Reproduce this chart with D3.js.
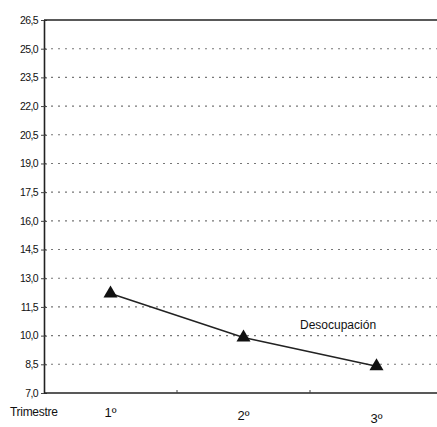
<!DOCTYPE html>
<html><head><meta charset="utf-8">
<script src="https://cdn.jsdelivr.net/npm/d3@7"></script>
<style>body{margin:0;background:#fff}svg{display:block}</style>
</head><body>
<svg id="c" width="437" height="427"></svg>
<script>
const categories = ["1º", "2º", "3º"];
const values = [12.2, 9.9, 8.4];
const yTicks = [7.0, 8.5, 10.0, 11.5, 13.0, 14.5, 16.0, 17.5, 19.0, 20.5, 22.0, 23.5, 25.0, 26.5];
const seriesName = "Desocupación";
const axisTitle = "Trimestre";

const svg = d3.select("#c");
const m = {left: 44, top: 20, right: -6, bottom: 34};
const W = 437, H = 427;
const x = d3.scaleBand().domain(categories).range([m.left, W - m.right]);
const y = d3.scaleLinear().domain([7, 26.5]).range([H - m.bottom, m.top]);
const fmt = d => d.toFixed(1).replace(".", ",");

// gridlines
svg.append("g").selectAll("line").data(yTicks.slice(1, -1)).join("line")
  .attr("x1", m.left).attr("x2", W).attr("y1", d => y(d)).attr("y2", d => y(d))
  .attr("stroke", "#777").attr("stroke-width", 1.1).attr("stroke-dasharray", "2,5");

// y axis
const ya = svg.append("g").attr("transform", `translate(${m.left},0)`)
  .call(d3.axisLeft(y).tickValues(yTicks).tickFormat(fmt).tickSize(3).tickSizeOuter(0));
ya.select(".domain").attr("stroke", "#222").attr("stroke-width", 1.6);
ya.selectAll(".tick line").attr("stroke", "#444").attr("x1", 3);
ya.selectAll("text").attr("font-family", "Liberation Sans, Arial, sans-serif")
  .attr("font-size", 10.5).attr("fill", "#111").attr("x", -6).style("letter-spacing", "-0.6px");

// x axis (band boundaries ticks)
const xb = svg.append("g").attr("transform", `translate(0,${y(7)})`);
xb.append("line").attr("x1", m.left).attr("x2", W).attr("stroke", "#222").attr("stroke-width", 1.6);
xb.selectAll("line.t").data(categories.slice(1)).join("line").attr("class", "t")
  .attr("x1", d => x(d)).attr("x2", d => x(d)).attr("y1", 0).attr("y2", -3)
  .attr("stroke", "#444");
svg.selectAll("text.xl").data(categories).join("text").attr("class", "xl")
  .attr("x", d => x(d) + x.bandwidth() / 2).attr("y", (d, i) => 417 + i * 3)
  .attr("text-anchor", "middle").attr("font-family", "Liberation Sans, Arial, sans-serif")
  .attr("font-size", 13).attr("fill", "#111").text(d => d);
svg.append("text").attr("x", 10).attr("y", 416)
  .attr("font-family", "Liberation Sans, Arial, sans-serif").attr("font-size", 12)
  .attr("fill", "#111").style("letter-spacing", "-0.3px").text(axisTitle);

// top border
svg.append("line").attr("x1", m.left).attr("x2", W).attr("y1", y(26.5)).attr("y2", y(26.5))
  .attr("stroke", "#222").attr("stroke-width", 1.6);

// line
const cx = d => x(d) + x.bandwidth() / 2;
svg.append("path").datum(values)
  .attr("d", d3.line().x((d, i) => cx(categories[i])).y(d => y(d)))
  .attr("fill", "none").attr("stroke", "#222").attr("stroke-width", 1.5);
svg.selectAll("path.m").data(values).join("path").attr("class", "m")
  .attr("d", d3.symbol(d3.symbolTriangle, 85))
  .attr("transform", (d, i) => `translate(${cx(categories[i])},${y(d)})`)
  .attr("fill", "#111");

svg.append("text").attr("x", 300).attr("y", 329)
  .attr("font-family", "Liberation Sans, Arial, sans-serif").attr("font-size", 12)
  .attr("fill", "#111").text(seriesName);
</script>
</body></html>
